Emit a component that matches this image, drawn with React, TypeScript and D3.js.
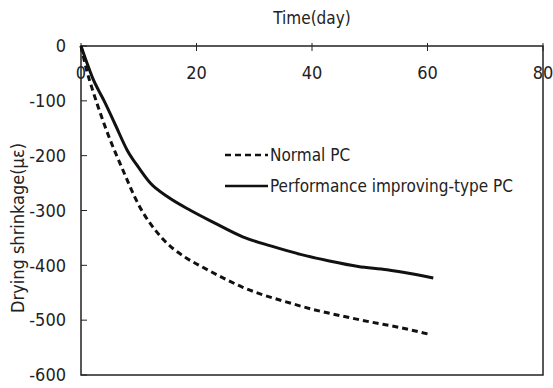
import { useEffect, useRef } from "react";
import * as d3 from "d3";

const normalDays = [0, 1, 2, 3, 5, 7, 10, 14, 18, 21, 25, 28, 31, 35, 40, 45, 50, 55, 60];
const normalValues = [0, -45, -80, -112, -170, -220, -290, -350, -385, -403, -425, -440, -452, -465, -480, -492, -503, -513, -525];

const improvedDays = [0, 1, 2, 3, 4, 6, 8, 10, 12, 15, 19, 23, 28, 33, 38, 43, 48, 53, 57, 61];
const improvedValues = [0, -30, -58, -80, -100, -145, -190, -222, -250, -275, -300, -322, -348, -365, -380, -392, -402, -408, -415, -423];

const xTicks = [0, 20, 40, 60, 80];
const yTicks = [0, -100, -200, -300, -400, -500, -600];

const seriesNames = ["Normal PC", "Performance improving-type PC"];

const App = () => {
  const ref = useRef<SVGSVGElement>(null);

  useEffect(() => {
    const svg = d3.select(ref.current);
    svg.selectAll("*").remove();

    const width = 553;
    const height = 388;
    const margin = { top: 46, right: 10, bottom: 13, left: 81 };
    const font = "'Liberation Sans Narrow', 'DejaVu Sans Condensed', sans-serif";
    const ink = "#222";

    const x = d3.scaleLinear().domain([0, 80]).range([margin.left, width - margin.right]);
    const y = d3.scaleLinear().domain([0, -600]).range([margin.top, height - margin.bottom]);

    // frame
    svg
      .append("rect")
      .attr("x", x(0))
      .attr("y", y(0))
      .attr("width", x(80) - x(0))
      .attr("height", y(-600) - y(0))
      .attr("fill", "none")
      .attr("stroke", ink)
      .attr("stroke-width", 1.5);

    // x axis on top, ticks inward
    svg
      .append("g")
      .selectAll("line")
      .data(xTicks)
      .join("line")
      .attr("x1", (d) => x(d))
      .attr("x2", (d) => x(d))
      .attr("y1", y(0) - 3)
      .attr("y2", y(0) + 5)
      .attr("stroke", ink)
      .attr("stroke-width", 1);

    svg
      .append("g")
      .selectAll("text")
      .data(xTicks)
      .join("text")
      .attr("x", (d) => x(d))
      .attr("y", y(0) + 33)
      .attr("text-anchor", "middle")
      .attr("font-family", font)
      .attr("font-size", 18)
      .attr("fill", ink)
      .text((d) => d);

    // y axis ticks
    svg
      .append("g")
      .selectAll("line")
      .data(yTicks)
      .join("line")
      .attr("x1", x(0))
      .attr("x2", x(0) + 6)
      .attr("y1", (d) => y(d))
      .attr("y2", (d) => y(d))
      .attr("stroke", ink)
      .attr("stroke-width", 1);

    svg
      .append("g")
      .selectAll("text")
      .data(yTicks)
      .join("text")
      .attr("x", x(0) - 15)
      .attr("y", (d) => y(d))
      .attr("dy", "0.35em")
      .attr("text-anchor", "end")
      .attr("font-family", font)
      .attr("font-size", 18)
      .attr("fill", ink)
      .text((d) => d);

    // titles
    svg
      .append("text")
      .attr("x", x(40))
      .attr("y", 24)
      .attr("text-anchor", "middle")
      .attr("font-family", font)
      .attr("font-size", 17)
      .attr("fill", ink)
      .text("Time(day)");

    svg
      .append("text")
      .attr("transform", "translate(24,228) rotate(-90)")
      .attr("text-anchor", "middle")
      .attr("font-family", font)
      .attr("font-size", 18)
      .attr("fill", ink)
      .text("Drying shrinkage(με)");

    // curves
    const line = d3
      .line<[number, number]>()
      .x((d) => x(d[0]))
      .y((d) => y(d[1]))
      .curve(d3.curveMonotoneX);

    const normal = normalDays.map((d, i) => [d, normalValues[i]] as [number, number]);
    const improved = improvedDays.map((d, i) => [d, improvedValues[i]] as [number, number]);

    svg
      .append("path")
      .attr("d", line(normal))
      .attr("fill", "none")
      .attr("stroke", "#111")
      .attr("stroke-width", 3)
      .attr("stroke-dasharray", "6,4");

    svg
      .append("path")
      .attr("d", line(improved))
      .attr("fill", "none")
      .attr("stroke", "#111")
      .attr("stroke-width", 3);

    // legend
    const legend = svg.append("g").attr("transform", "translate(225,155)");
    seriesNames.forEach((name, i) => {
      const g = legend.append("g").attr("transform", `translate(0,${i * 31})`);
      g.append("line")
        .attr("x1", 0)
        .attr("x2", 43)
        .attr("stroke", "#111")
        .attr("stroke-width", 2.5)
        .attr("stroke-dasharray", i === 0 ? "6,4" : null);
      g.append("text")
        .attr("x", 45)
        .attr("dy", "0.35em")
        .attr("font-family", font)
        .attr("font-size", 17)
        .attr("fill", ink)
        .text(name);
    });
  }, []);

  return (
    <svg
      ref={ref}
      width={553}
      height={388}
      style={{ position: "absolute", left: 0, top: 0, background: "#fff" }}
    />
  );
};

export default App;
